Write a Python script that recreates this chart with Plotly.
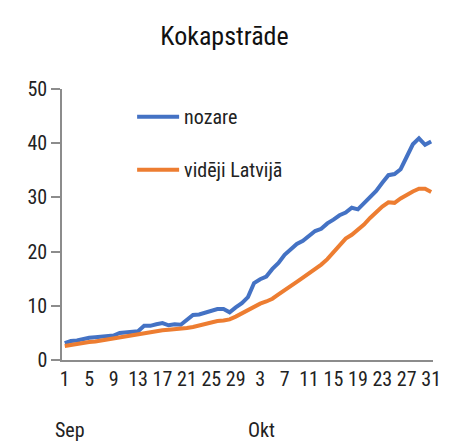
import plotly.graph_objects as go

day_labels = [str(d) for d in range(1, 31)] + [str(d) for d in range(1, 32)]
tick_every = 4
month_labels = ["Sep", "Okt"]
month_start_idx = [0, 30]

nozare = [3.1, 3.5, 3.6, 3.9, 4.1, 4.2, 4.3, 4.3, 4.5, 5.0,
          5.1, 5.1, 5.3, 6.3, 6.3, 6.6, 6.8, 6.4, 6.6, 6.5,
          7.3, 8.3, 8.4, 8.7, 9.0, 9.4, 9.4, 8.8, 9.7, 10.5,
          11.6, 14.2, 14.9, 15.4, 16.8, 17.9, 19.4, 20.4, 21.4, 22.0,
          23.0, 23.8, 24.2, 25.2, 25.9, 26.7, 27.2, 28.1, 27.8, 28.9,
          30.0, 31.2, 32.7, 34.1, 34.3, 35.2, 37.5, 39.8, 40.9, 39.7,
          40.3]
videji_latvija = [2.6, 2.8, 3.0, 3.2, 3.3, 3.4, 3.6, 3.8, 4.0, 4.2,
                  4.4, 4.5, 4.7, 4.9, 5.1, 5.3, 5.5, 5.6, 5.7, 5.7,
                  5.9, 6.1, 6.4, 6.7, 7.0, 7.2, 7.3, 7.5, 8.0, 8.6,
                  9.3, 9.8, 10.4, 10.8, 11.3, 12.1, 12.8, 13.6, 14.4, 15.2,
                  16.0, 16.6, 17.6, 18.6, 19.8, 21.2, 22.4, 23.1, 24.0, 25.0,
                  26.2, 27.3, 28.3, 29.1, 29.0, 29.8, 30.5, 31.1, 31.6, 31.6,
                  31.0]
series_names = ["nozare", "vidēji Latvijā"]
y_ticks = [0, 10, 20, 30, 40, 50]

FONT = "Roboto Condensed, DejaVu Sans Condensed, sans-serif"
TXT = "#222222"
x = list(range(len(day_labels)))

fig = go.Figure()
fig.add_trace(go.Scatter(x=x, y=nozare, mode="lines", name=series_names[0],
                         legendgroup="a", line=dict(color="#4472C4", width=4)))
fig.add_trace(go.Scatter(x=x, y=videji_latvija, mode="lines", name=series_names[1],
                         legendgroup="b", line=dict(color="#ED7D31", width=4)))

tickvals = x[::tick_every]
ticktext = day_labels[::tick_every]

for lbl, idx in zip(month_labels, month_start_idx):
    fig.add_annotation(x=idx, y=0, xref="x", yref="paper", text=lbl,
                       showarrow=False, xanchor="left", yanchor="top",
                       xshift=-12 if idx == 0 else -2, yshift=-56,
                       font=dict(family=FONT, size=20, color=TXT))

fig.update_layout(
    width=449, height=444, autosize=False,
    margin=dict(l=62, r=8, t=89, b=84),
    paper_bgcolor="white", plot_bgcolor="white",
    title=dict(text="Kokapstrāde", x=0.5, xanchor="center", y=0.92, yanchor="middle",
               font=dict(family=FONT, size=26, color="#111111")),
    font=dict(family=FONT, size=19, color=TXT),
    showlegend=True,
    legend=dict(x=0.189, y=0.97, xanchor="left", yanchor="top", itemwidth=42,
                bgcolor="rgba(0,0,0,0)", traceorder="grouped", tracegroupgap=24,
                font=dict(family=FONT, size=20, color=TXT)),
    xaxis=dict(range=[-0.45, 60.3], tickmode="array", tickvals=tickvals, ticktext=ticktext,
               showline=True, linecolor="#8c8c8c", linewidth=1.5, showgrid=False,
               zeroline=False, ticks="", tickangle=0, ticklabeloverflow="allow",
               tickfont=dict(family=FONT, size=20, color=TXT)),
    yaxis=dict(range=[0, 50], tickmode="array", tickvals=y_ticks,
               showline=True, linecolor="#8c8c8c", linewidth=1.5, showgrid=False,
               zeroline=False, ticks="outside", ticklen=9, tickcolor="#8c8c8c", tickwidth=1.5,
               tickfont=dict(family=FONT, size=20, color=TXT)),
)

fig.write_html("out.html", config={"displayModeBar": False},
               post_script="document.body.style.margin='0';")
